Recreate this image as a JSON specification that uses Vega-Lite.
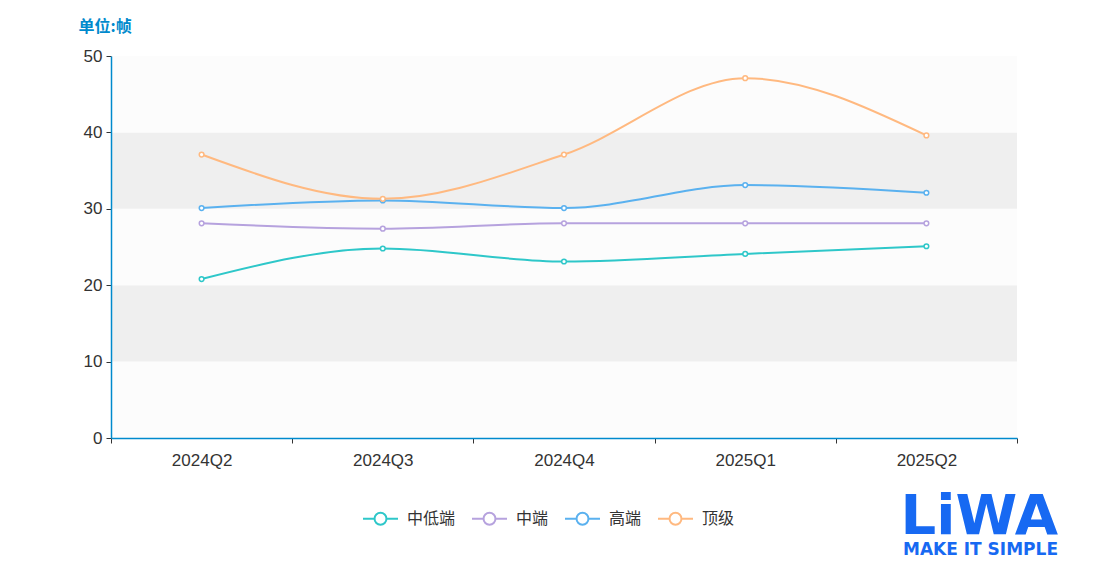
{
  "$schema": "https://vega.github.io/schema/vega-lite/v6.json",
  "width": 906,
  "height": 382,
  "autosize": {"type": "none"},
  "padding": {"left": 111, "top": 56, "right": 81, "bottom": 129},
  "background": "white",
  "title": {
    "text": "LiWA",
    "subtitle": "MAKE IT SIMPLE",
    "orient": "bottom",
    "anchor": "end",
    "frame": "group",
    "offset": 22,
    "dx": 41,
    "dy": -61,
    "font": "DejaVu Sans",
    "fontSize": 56,
    "fontWeight": "bold",
    "color": "#1769f2",
    "subtitleFont": "DejaVu Sans",
    "subtitleFontSize": 17,
    "subtitleFontWeight": "bold",
    "subtitleColor": "#1769f2",
    "subtitlePadding": -4
  },
  "datasets": {
    "bands": [
      {"lo": 0, "hi": 10, "shade": "a"},
      {"lo": 10, "hi": 20, "shade": "b"},
      {"lo": 20, "hi": 30, "shade": "a"},
      {"lo": 30, "hi": 40, "shade": "b"},
      {"lo": 40, "hi": 50, "shade": "a"}
    ],
    "fps": [
      {"quarter": "2024Q2", "tier": "中低端", "value": 20.8},
      {"quarter": "2024Q3", "tier": "中低端", "value": 24.8},
      {"quarter": "2024Q4", "tier": "中低端", "value": 23.1},
      {"quarter": "2025Q1", "tier": "中低端", "value": 24.1},
      {"quarter": "2025Q2", "tier": "中低端", "value": 25.1},
      {"quarter": "2024Q2", "tier": "中端", "value": 28.1},
      {"quarter": "2024Q3", "tier": "中端", "value": 27.4},
      {"quarter": "2024Q4", "tier": "中端", "value": 28.1},
      {"quarter": "2025Q1", "tier": "中端", "value": 28.1},
      {"quarter": "2025Q2", "tier": "中端", "value": 28.1},
      {"quarter": "2024Q2", "tier": "高端", "value": 30.1},
      {"quarter": "2024Q3", "tier": "高端", "value": 31.1},
      {"quarter": "2024Q4", "tier": "高端", "value": 30.1},
      {"quarter": "2025Q1", "tier": "高端", "value": 33.1},
      {"quarter": "2025Q2", "tier": "高端", "value": 32.1},
      {"quarter": "2024Q2", "tier": "顶级", "value": 37.1},
      {"quarter": "2024Q3", "tier": "顶级", "value": 31.3},
      {"quarter": "2024Q4", "tier": "顶级", "value": 37.1},
      {"quarter": "2025Q1", "tier": "顶级", "value": 47.1},
      {"quarter": "2025Q2", "tier": "顶级", "value": 39.6}
    ]
  },
  "layer": [
    {
      "data": {"name": "bands"},
      "mark": {"type": "rect"},
      "encoding": {
        "y": {
          "field": "lo",
          "type": "quantitative",
          "scale": {"domain": [0, 50]},
          "axis": {"zindex": 1}
        },
        "y2": {"field": "hi"},
        "fill": {
          "field": "shade",
          "type": "nominal",
          "scale": {"domain": ["a", "b"], "range": ["#fcfcfc", "#efefef"]},
          "legend": null
        }
      }
    },
    {
      "data": {"name": "fps"},
      "mark": {
        "type": "line",
        "interpolate": "monotone",
        "strokeWidth": 2,
        "point": {"filled": false, "fill": "white", "size": 22, "strokeWidth": 1.5}
      },
      "encoding": {
        "x": {
          "field": "quarter",
          "type": "nominal",
          "scale": {"type": "band", "paddingInner": 0, "paddingOuter": 0},
          "axis": {
            "zindex": 1,
            "title": null,
            "labelAngle": 0,
            "tickBand": "extent",
            "labelPadding": 9
          }
        },
        "y": {
          "field": "value",
          "type": "quantitative",
          "scale": {"domain": [0, 50]},
          "axis": {
            "zindex": 1,
            "values": [0, 10, 20, 30, 40, 50],
            "grid": false,
            "domainColor": "#008acd",
            "domainWidth": 1.5,
            "labelPadding": 4,
            "title": "单位:帧",
            "titleAngle": 0,
            "titleAlign": "left",
            "titleBaseline": "alphabetic",
            "titleX": -33,
            "titleY": -25,
            "titleColor": "#008acd",
            "titleFont": "Noto Sans CJK SC",
            "titleFontSize": 16,
            "titleFontWeight": "bold"
          }
        },
        "color": {
          "field": "tier",
          "type": "nominal",
          "scale": {
            "domain": ["中低端", "中端", "高端", "顶级"],
            "range": ["#2ec7c9", "#b6a2de", "#5ab1ef", "#ffb980"]
          },
          "legend": {
            "title": null,
            "orient": "none",
            "direction": "horizontal",
            "legendX": 251,
            "legendY": 444,
            "padding": 0,
            "symbolType": "M-1,0L-0.34,0M0.34,0L1,0M0.34,0A0.34,0.34,0,1,1,-0.34,0A0.34,0.34,0,1,1,0.34,0",
            "symbolSize": 1225,
            "symbolStrokeWidth": 2,
            "labelFont": "Noto Sans CJK SC",
            "labelFontSize": 16,
            "labelColor": "#333333",
            "labelOffset": 8,
            "columnPadding": 12,
            "encode": {"symbols": {"update": {"fill": {"value": "white"}}}}
          }
        }
      }
    }
  ],
  "config": {
    "view": {"stroke": null},
    "axis": {
      "domainColor": "#008acd",
      "domainWidth": 1.3,
      "tickColor": "#333333",
      "tickSize": 5,
      "labelColor": "#333333",
      "labelFont": "Liberation Sans",
      "labelFontSize": 17
    }
  }
}
